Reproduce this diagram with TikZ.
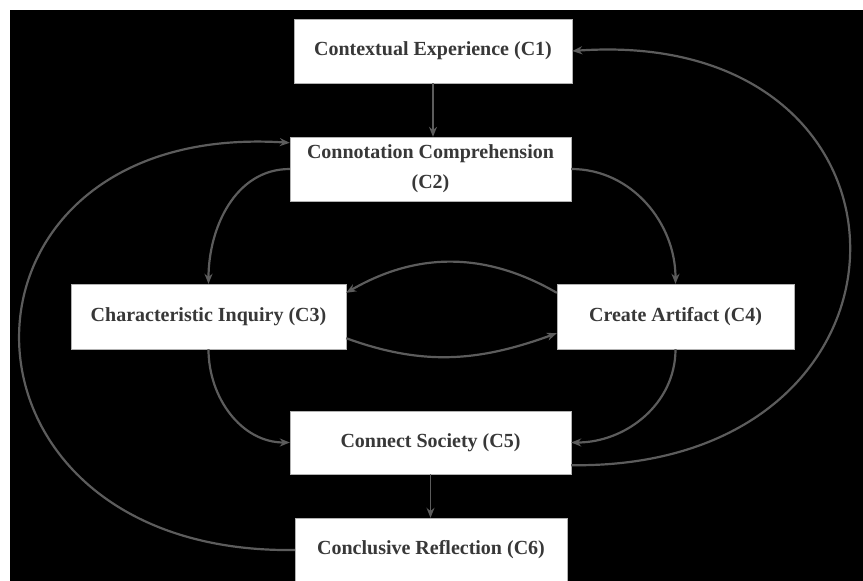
\documentclass[tikz,border=0pt]{standalone}
\usepackage{fontspec}
\setmainfont{Liberation Serif}
\usetikzlibrary{arrows.meta}

\begin{document}
\begin{tikzpicture}[x=1pt,y=1pt,
    stage/.style={draw=gray!60, fill=white, text=black!78, inner sep=0pt, align=center,
      font=\fontsize{20}{30}\selectfont\bfseries},
    flow/.style={draw=black!64, line width=2.2pt, -{Stealth[length=10pt,width=8pt]}}]
  \useasboundingbox (0,0) rectangle (863,-581);
  \fill[black] (10,-10) rectangle (863,-581);

  \node[stage, minimum width=278pt, minimum height=64pt] (c1) at (433,-51)   {Contextual Experience (C1)};
  \node[stage, minimum width=281pt, minimum height=64pt] (c2) at (430.5,-169) {Connotation Comprehension\\(C2)};
  \node[stage, minimum width=275pt, minimum height=65pt] (c3) at (208.5,-316.5) {Characteristic Inquiry (C3)};
  \node[stage, minimum width=237pt, minimum height=65pt] (c4) at (675.5,-316.5) {Create Artifact (C4)};
  \node[stage, minimum width=281pt, minimum height=63pt] (c5) at (430.5,-442.5) {Connect Society (C5)};
  \node[stage, minimum width=272pt, minimum height=64pt] (c6) at (431,-550)   {Conclusive Reflection (C6)};

  \draw[flow, line width=1.4pt] (c1.south) -- (c1.south |- c2.north);
  \draw[flow] (c2.west) to[out=180, in=90] (c3.north);
  \draw[flow] (c2.east) to[out=0, in=90] (c4.north);
  \draw[flow] ([yshift=-9pt]c4.north west) to[out=150, in=30] ([yshift=-9pt]c3.north east);
  \draw[flow] ([yshift=11pt]c3.south east) to[out=-20, in=-160] ([yshift=16pt]c4.south west);
  \draw[flow] (c3.south) to[out=-90, in=180] (c5.west);
  \draw[flow] (c4.south) to[out=-90, in=0] (c5.east);
  \draw[flow, line width=1.4pt] (c5.south) -- (c5.south |- c6.north);
  % the two long loops back
  \draw[flow] (c6.west) .. controls (-71,-555) and (-71,-120) .. ([yshift=-6pt]c2.north west);
  \draw[flow] ([yshift=9pt]c5.south east) .. controls (942,-470) and (942,-25) .. (c1.east);
\end{tikzpicture}
\end{document}
